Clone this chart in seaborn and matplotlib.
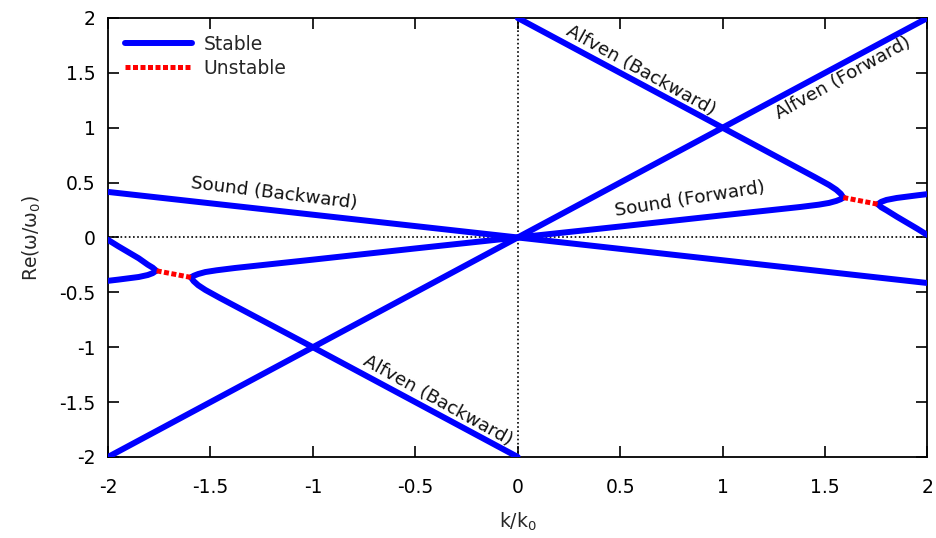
import matplotlib
matplotlib.use("Agg")
import matplotlib.pyplot as plt
import seaborn as sns
import numpy as np

# ---- data ----
# full straight branches
alfven_fwd_k = [-2.0, 2.0]
alfven_fwd_w = [-2.0, 2.0]
sound_bwd_k = [-2.0, 2.0]
sound_bwd_w = [0.415, -0.415]

# k > 0 coupled branches
alfven_bwd_pos_k = [0.0, 1.0, 1.45, 1.52, 1.555, 1.577, 1.589]
alfven_bwd_pos_w = [2.0, 1.0, 0.55, 0.478, 0.435, 0.398, 0.364]
sound_fwd_pos_k = [0.0, 0.5, 1.0, 1.38, 1.47, 1.52, 1.555, 1.577, 1.589]
sound_fwd_pos_w = [0.0, 0.1, 0.202, 0.278, 0.299, 0.315, 0.333, 0.349, 0.364]
upper_pos_k = [1.758, 1.775, 1.8, 1.85, 1.9, 1.95, 2.0]
upper_pos_w = [0.303, 0.325, 0.342, 0.36, 0.372, 0.384, 0.395]
lower_pos_k = [1.758, 1.775, 1.8, 1.85, 1.9, 1.95, 2.0]
lower_pos_w = [0.303, 0.275, 0.248, 0.19, 0.135, 0.08, 0.022]
unstable_pos_k = [1.589, 1.758]
unstable_pos_w = [0.364, 0.303]

# k < 0 coupled branches
alfven_bwd_neg_k = [0.0, -1.0, -1.455, -1.525, -1.56, -1.582, -1.595]
alfven_bwd_neg_w = [-2.0, -1.0, -0.55, -0.478, -0.435, -0.398, -0.364]
sound_fwd_neg_k = [0.0, -0.5, -1.0, -1.38, -1.47, -1.525, -1.56, -1.582, -1.595]
sound_fwd_neg_w = [0.0, -0.1, -0.202, -0.278, -0.299, -0.315, -0.333, -0.349, -0.364]
upper_neg_k = [-1.765, -1.782, -1.806, -1.85, -1.9, -1.95, -2.0]
upper_neg_w = [-0.303, -0.275, -0.248, -0.19, -0.135, -0.08, -0.022]
lower_neg_k = [-1.765, -1.782, -1.806, -1.85, -1.9, -1.95, -2.0]
lower_neg_w = [-0.303, -0.325, -0.342, -0.36, -0.372, -0.384, -0.395]
unstable_neg_k = [-1.595, -1.765]
unstable_neg_w = [-0.364, -0.303]

ticks = [-2, -1.5, -1, -0.5, 0, 0.5, 1, 1.5, 2]
tick_labels = ["-2", "-1.5", "-1", "-0.5", "0", "0.5", "1", "1.5", "2"]

labels = [
    ("Sound (Backward)", -1.19, 0.40, -7),
    ("Sound (Forward)", 0.84, 0.345, 9),
    ("Alfven (Backward)", 0.60, 1.52, -29),
    ("Alfven (Forward)", 1.59, 1.45, 29),
    ("Alfven (Backward)", -0.39, -1.49, -29),
]

# ---- plotting ----
sns.set_theme(style="ticks")
plt.rcParams["font.family"] = ["DejaVu Sans"]

fig = plt.figure(figsize=(9.37, 5.38), dpi=100)
ax = fig.add_axes([0.1153, 0.1506, 0.8745, 0.8160])

blue = "#0000ff"
red = "#ff0000"
lw = 4.3

stable = [
    (alfven_fwd_k, alfven_fwd_w),
    (sound_bwd_k, sound_bwd_w),
    (alfven_bwd_pos_k, alfven_bwd_pos_w),
    (sound_fwd_pos_k, sound_fwd_pos_w),
    (upper_pos_k, upper_pos_w),
    (lower_pos_k, lower_pos_w),
    (alfven_bwd_neg_k, alfven_bwd_neg_w),
    (sound_fwd_neg_k, sound_fwd_neg_w),
    (upper_neg_k, upper_neg_w),
    (lower_neg_k, lower_neg_w),
]
unstable = [
    (unstable_pos_k, unstable_pos_w),
    (unstable_neg_k, unstable_neg_w),
]

# zero reference lines
ax.axhline(0, color="black", lw=1.2, ls=(0, (1, 1.5)), zorder=1)
ax.axvline(0, color="black", lw=1.2, ls=(0, (1, 1.5)), zorder=1)

for i, (kk, ww) in enumerate(stable):
    sns.lineplot(x=kk, y=ww, ax=ax, sort=False, estimator=None, color=blue,
                 lw=lw, solid_capstyle="round", solid_joinstyle="round",
                 label="Stable" if i == 0 else None, zorder=3)
for i, (kk, ww) in enumerate(unstable):
    sns.lineplot(x=kk, y=ww, ax=ax, sort=False, estimator=None, color=red,
                 lw=3.6, ls=(0, (1.0, 0.5)),
                 label="Unstable" if i == 0 else None, zorder=4)

ax.set_xlim(-2, 2)
ax.set_ylim(-2, 2)
ax.set_xticks(ticks)
ax.set_xticklabels(tick_labels)
ax.set_yticks(ticks)
ax.set_yticklabels(tick_labels)
ax.tick_params(direction="in", length=8, width=1.2, top=True, right=True,
               labelsize=13.5, colors="black")
ax.tick_params(axis="x", pad=15)
ax.tick_params(axis="y", pad=9)
for s in ax.spines.values():
    s.set_visible(True)
    s.set_linewidth(1.3)
    s.set_color("black")

ax.set_xlabel("k/k$_0$", fontsize=13.5, labelpad=10)
ax.set_ylabel("Re(\u03c9/\u03c9$_0$)", fontsize=13.5, labelpad=12)

for txt, x, y, rot in labels:
    ax.text(x, y, txt, fontsize=13.2, rotation=rot, ha="center", va="center",
            rotation_mode="anchor", color="#111111", zorder=5)

leg = ax.legend(loc="upper left", frameon=False, fontsize=13.5,
                handlelength=3.6, borderaxespad=0.5, handletextpad=0.6,
                labelspacing=0.25)

fig.savefig("out.png", dpi=100)
